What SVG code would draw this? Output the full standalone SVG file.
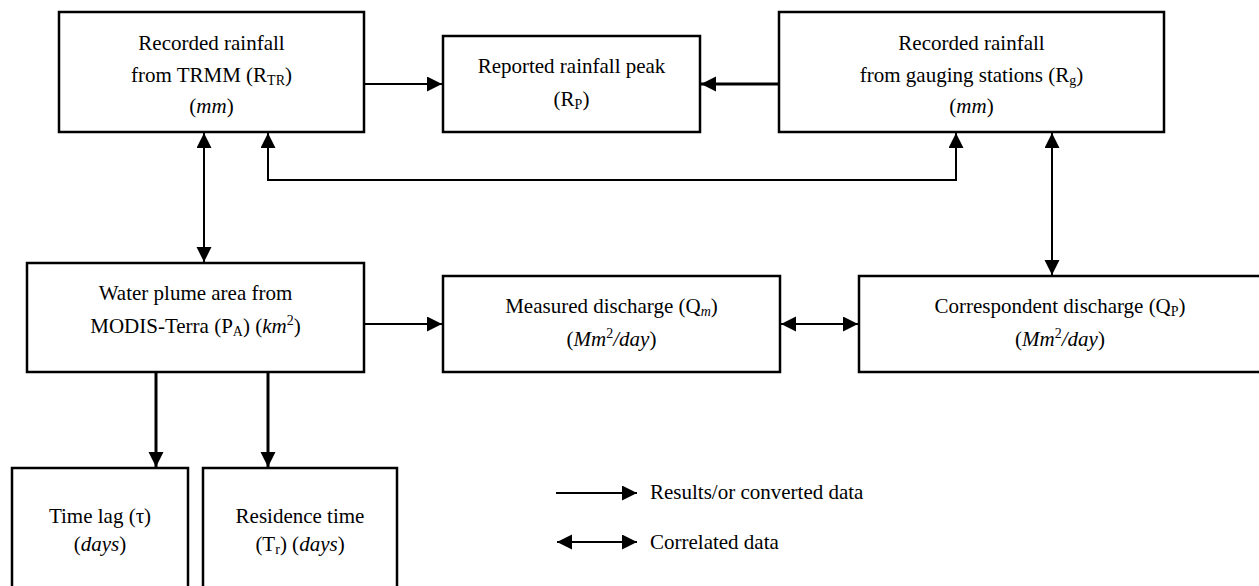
<svg xmlns="http://www.w3.org/2000/svg" width="1259" height="586" viewBox="0 0 1259 586">
<style>
  .box { fill: #fff; stroke: #000; stroke-width: 2.5; }
  text { font-family: 'Liberation Serif', 'Tinos', 'Times New Roman', 'DejaVu Serif', serif; font-size: 21px; fill: #000; }
  .t { text-anchor: middle; }
  .c { fill: none; stroke: #000; stroke-width: 2; }
  .ck { fill: none; stroke: #000; stroke-width: 3; }
  .s { font-size: 14px; }
</style>
<defs>
  <marker id="ah" markerUnits="userSpaceOnUse" markerWidth="16" markerHeight="16" refX="15" refY="7.5" orient="auto-start-reverse">
    <path d="M0,0 L15,7.5 L0,15 z" fill="#000"/>
  </marker>
</defs>
<rect width="1259" height="586" fill="#fff"/>

<g id="connectors">
  <line class="c" x1="365" y1="84" x2="442" y2="84" marker-end="url(#ah)"/>
  <line class="ck" x1="778" y1="84" x2="701" y2="84" marker-end="url(#ah)"/>
  <line class="c" x1="204" y1="133" x2="204" y2="262" marker-start="url(#ah)" marker-end="url(#ah)"/>
  <path class="c" d="M268,133 V180 H956 V133" marker-start="url(#ah)" marker-end="url(#ah)"/>
  <line class="c" x1="1052" y1="133" x2="1052" y2="275" marker-start="url(#ah)" marker-end="url(#ah)"/>
  <line class="c" x1="365" y1="324" x2="442" y2="324" marker-end="url(#ah)"/>
  <line class="c" x1="781" y1="324" x2="858" y2="324" marker-start="url(#ah)" marker-end="url(#ah)"/>
  <line class="ck" x1="156" y1="373" x2="156" y2="467" marker-end="url(#ah)"/>
  <line class="ck" x1="268" y1="373" x2="268" y2="467" marker-end="url(#ah)"/>
</g>

<g id="trmm">
  <rect class="box" x="59" y="12" width="305" height="120"/>
  <text class="t" x="211.5" y="50">Recorded rainfall</text>
  <text class="t" x="211.5" y="82">from TRMM (R<tspan class="s" dy="3">TR</tspan><tspan dy="-3">)</tspan></text>
  <text class="t" x="211.5" y="113">(<tspan font-style="italic">mm</tspan>)</text>
</g>

<g id="peak">
  <rect class="box" x="443" y="36" width="257" height="96"/>
  <text class="t" x="571.5" y="73">Reported rainfall peak</text>
  <text class="t" x="571.5" y="106">(R<tspan class="s" dy="3">P</tspan><tspan dy="-3">)</tspan></text>
</g>

<g id="gauging">
  <rect class="box" x="779" y="12" width="385" height="120"/>
  <text class="t" x="971.5" y="50">Recorded rainfall</text>
  <text class="t" x="971.5" y="82">from gauging stations (R<tspan class="s" dy="3">g</tspan><tspan dy="-3">)</tspan></text>
  <text class="t" x="971.5" y="113">(<tspan font-style="italic">mm</tspan>)</text>
</g>

<g id="plume">
  <rect class="box" x="27" y="263" width="337" height="109"/>
  <text class="t" x="195.5" y="300">Water plume area from</text>
  <text class="t" x="195.5" y="333">MODIS-Terra (P<tspan class="s" dy="3">A</tspan><tspan dy="-3">) (</tspan><tspan font-style="italic">km</tspan><tspan class="s" dy="-8">2</tspan><tspan dy="8">)</tspan></text>
</g>

<g id="measured">
  <rect class="box" x="443" y="276" width="337" height="96"/>
  <text class="t" x="611.5" y="313">Measured discharge (Q<tspan class="s" font-style="italic" dy="3">m</tspan><tspan dy="-3">)</tspan></text>
  <text class="t" x="611.5" y="346">(<tspan font-style="italic">Mm</tspan><tspan class="s" dy="-8">2</tspan><tspan font-style="italic" dy="8">/day</tspan>)</text>
</g>

<g id="correspondent">
  <rect class="box" x="859" y="276" width="402" height="96"/>
  <text class="t" x="1060" y="313">Correspondent discharge (Q<tspan class="s" dy="3">P</tspan><tspan dy="-3">)</tspan></text>
  <text class="t" x="1060" y="346">(<tspan font-style="italic">Mm</tspan><tspan class="s" dy="-8">2</tspan><tspan font-style="italic" dy="8">/day</tspan>)</text>
</g>

<g id="timelag">
  <rect class="box" x="12" y="468" width="176" height="130"/>
  <text class="t" x="100" y="523">Time lag (τ)</text>
  <text class="t" x="100" y="551">(<tspan font-style="italic">days</tspan>)</text>
</g>

<g id="residence">
  <rect class="box" x="203" y="468" width="194" height="130"/>
  <text class="t" x="300" y="523">Residence time</text>
  <text class="t" x="300" y="551">(T<tspan class="s" dy="3">r</tspan><tspan dy="-3">) (</tspan><tspan font-style="italic">days</tspan>)</text>
</g>

<g id="legend">
  <line class="c" x1="556" y1="493" x2="637" y2="493" marker-end="url(#ah)"/>
  <text x="650" y="499">Results/or converted data</text>
  <line class="c" x1="557" y1="542" x2="637" y2="542" marker-start="url(#ah)" marker-end="url(#ah)"/>
  <text x="650" y="549">Correlated data</text>
</g>
</svg>
